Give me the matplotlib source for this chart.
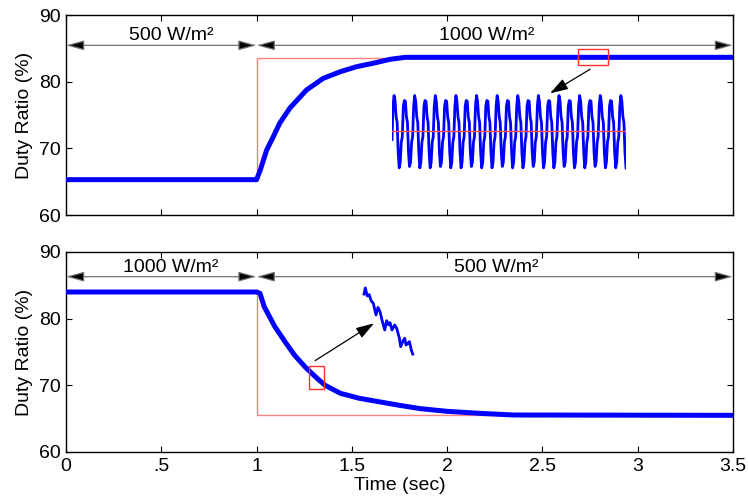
import numpy as np
import matplotlib
matplotlib.use('Agg')
import matplotlib.pyplot as plt
from matplotlib.patches import Rectangle

plt.rcParams['font.family'] = ['Liberation Sans', 'DejaVu Sans']

# ---------------- data ----------------
time_ticks = [0, 0.5, 1, 1.5, 2, 2.5, 3, 3.5]
time_tick_labels = ['0', '.5', '1', '1.5', '2', '2.5', '3', '3.5']
duty_ticks = [60, 70, 80, 90]

# top panel: 500 -> 1000 W/m2 at t = 1 s
top_ref_t = [0, 1, 1, 3.5]
top_ref_d = [65.3, 65.3, 83.6, 83.6]
top_t = [0, 1.0, 1.02, 1.053, 1.087, 1.122, 1.175, 1.262, 1.35, 1.44,
         1.525, 1.61, 1.70, 1.78, 3.5]
top_d = [65.3, 65.3, 66.8, 69.75, 71.7, 73.8, 76.05, 78.75, 80.5, 81.5,
         82.25, 82.75, 83.35, 83.65, 83.65]

# bottom panel: 1000 -> 500 W/m2 at t = 1 s
bot_ref_t = [0, 1, 1, 3.5]
bot_ref_d = [84.1, 84.1, 65.5, 65.5]
bot_t = [0, 1.0, 1.018, 1.04, 1.096, 1.15, 1.2, 1.255, 1.31, 1.36, 1.44,
         1.54, 1.65, 1.75, 1.86, 2.0, 2.17, 2.35, 3.5]
bot_d = [84.0, 84.0, 83.8, 81.8, 78.8, 76.5, 74.5, 72.75, 71.25, 70.0, 68.8,
         68.05, 67.5, 67.0, 66.5, 66.1, 65.8, 65.55, 65.5]

# zoomed ripple (top inset), t = 2.685 .. 2.846 s
inset_top_peaks = [84.10, 84.03, 84.10, 84.03, 84.10, 84.03, 84.10, 84.03,
                   84.10, 84.03, 84.10, 84.03, 84.10, 84.03, 84.10, 84.03,
                   84.10, 84.03, 84.10, 84.03, 84.10, 84.03, 84.10]
inset_top_troughs = [83.08, 83.10, 83.08, 83.08, 83.10, 83.08, 83.08, 83.10,
                     83.08, 83.08, 83.10, 83.08, 83.08, 83.10, 83.08, 83.08,
                     83.10, 83.08, 83.08, 83.10, 83.08, 83.08, 83.08]
inset_top_start = 83.48
inset_top_falling = [84.02, 83.80, 83.72, 83.30]   # peak -> trough
inset_top_rising = [83.16, 83.44, 83.52, 83.95]    # trough -> peak
inset_top_mean = 83.6

# zoomed descent (bottom inset)
inset_bot_t = [1.2867, 1.2882, 1.2906, 1.2929, 1.2950, 1.2977, 1.3009, 1.3032,
               1.3056, 1.3080, 1.3112, 1.3135, 1.3159, 1.3175, 1.3198, 1.3230,
               1.3254, 1.3286, 1.3301, 1.3325, 1.3349, 1.3364, 1.3388, 1.3404,
               1.3427, 1.3444]
inset_bot_d = [72.38, 72.67, 72.29, 72.35, 72.07, 71.94, 71.39, 71.75,
               71.55, 71.15, 70.68, 71.12, 70.92, 71.03, 70.68, 70.92,
               70.76, 70.29, 69.89, 70.13, 70.29, 69.97, 70.05, 70.13,
               69.73, 69.54]

top_labels = ['500 W/m²', '1000 W/m²']
bot_labels = ['1000 W/m²', '500 W/m²']

# ---------------- figure ----------------
W, H = 748, 501
fig = plt.figure(figsize=(W / 100, H / 100), dpi=100)


def px_axes(x0, y0, x1, y1):
    return [x0 / W, (H - y1) / H, (x1 - x0) / W, (y1 - y0) / H]


ax1 = fig.add_axes(px_axes(66, 15, 733, 215))
ax2 = fig.add_axes(px_axes(66, 252, 733, 452))

BLUE = '#0000ff'
PINK = '#ff8080'
BOXRED = '#ff3030'
FS = 14

for ax in (ax1, ax2):
    ax.set_xlim(0, 3.5)
    ax.set_ylim(60, 90)
    ax.set_xticks(time_ticks)
    ax.set_yticks(duty_ticks)
    ax.tick_params(direction='in', top=True, right=True, length=4,
                   width=0.8, labelsize=FS, pad=4)
    for s in ax.spines.values():
        s.set_linewidth(1.0)
    ax.set_ylabel('Duty Ratio (%)', fontsize=FS, labelpad=4)

ax1.set_xticklabels([])
ax2.set_xticklabels(time_tick_labels)
ax2.set_xlabel('Time (sec)', fontsize=FS, labelpad=2)

# main curves (reference under the measured duty ratio)
ax1.plot(top_ref_t, top_ref_d, color=PINK, lw=1.0, zorder=2)
ax1.plot(top_t, top_d, color=BLUE, lw=3.6, solid_joinstyle='round', zorder=3)
ax2.plot(bot_ref_t, bot_ref_d, color=PINK, lw=1.0, zorder=2)
ax2.plot(bot_t, bot_d, color=BLUE, lw=3.6, solid_joinstyle='round', zorder=3)


def span_arrow(ax, t0, t1, y):
    ax.annotate('', xy=(t1, y), xytext=(t0, y),
                arrowprops=dict(arrowstyle='<|-|>,head_length=1.1,head_width=0.3',
                                fc='k', ec='0.45', lw=0.9,
                                shrinkA=0, shrinkB=0),
                annotation_clip=False)


span_arrow(ax1, 0, 1, 85.45)
span_arrow(ax1, 1, 3.5, 85.45)
ax1.text(0.55, 87.0, top_labels[0], ha='center', va='center', fontsize=FS)
ax1.text(2.21, 87.0, top_labels[1], ha='center', va='center', fontsize=FS)

span_arrow(ax2, 0, 1, 86.3)
span_arrow(ax2, 1, 3.5, 86.3)
ax2.text(0.55, 87.7, bot_labels[0], ha='center', va='center', fontsize=FS)
ax2.text(2.26, 87.7, bot_labels[1], ha='center', va='center', fontsize=FS)

# zoom boxes
ax1.add_patch(Rectangle((2.685, 82.5), 0.161, 2.4, fill=False,
                        ec=BOXRED, lw=1.0, zorder=4))
ax2.add_patch(Rectangle((1.276, 69.45), 0.077, 3.5, fill=False,
                        ec=BOXRED, lw=1.0, zorder=4))

# pointer arrows
ax1.annotate('', xy=(2.54, 78.25), xytext=(2.75, 81.86),
             arrowprops=dict(arrowstyle='-|>,head_length=1.1,head_width=0.35',
                             fc='k', ec='k', lw=0.9, shrinkA=0, shrinkB=0))
ax2.annotate('', xy=(1.616, 79.3), xytext=(1.307, 73.7),
             arrowprops=dict(arrowstyle='-|>,head_length=1.1,head_width=0.35',
                             fc='k', ec='k', lw=0.9, shrinkA=0, shrinkB=0))

# top inset (ripple)
wave = [inset_top_start, inset_top_rising[3]]
for i, (p, tr) in enumerate(zip(inset_top_peaks, inset_top_troughs)):
    wave += [p] + inset_top_falling + [tr]
    if i < len(inset_top_peaks) - 1:
        wave += inset_top_rising
wave_t = np.linspace(2.685, 2.846, len(wave))
axi1 = fig.add_axes(px_axes(392, 92, 626, 170))
axi1.plot(wave_t, wave, color=BLUE, lw=2.0, solid_joinstyle='round')
axi1.plot([wave_t[0], wave_t[-1]], [inset_top_mean, inset_top_mean],
          color='#ff5050', lw=1.0)
axi1.set_xlim(wave_t[0], wave_t[-1])
axi1.set_ylim(83.05, 84.15)
axi1.axis('off')
axi1.patch.set_alpha(0)

# bottom inset (descent)
axi2 = fig.add_axes(px_axes(355, 282, 420, 356))
axi2.plot(inset_bot_t, inset_bot_d, color=BLUE, lw=2.0, solid_joinstyle='round')
axi2.set_xlim(1.276, 1.353)
axi2.set_ylim(69.45, 72.95)
axi2.axis('off')
axi2.patch.set_alpha(0)

fig.savefig('out.png', dpi=100)
